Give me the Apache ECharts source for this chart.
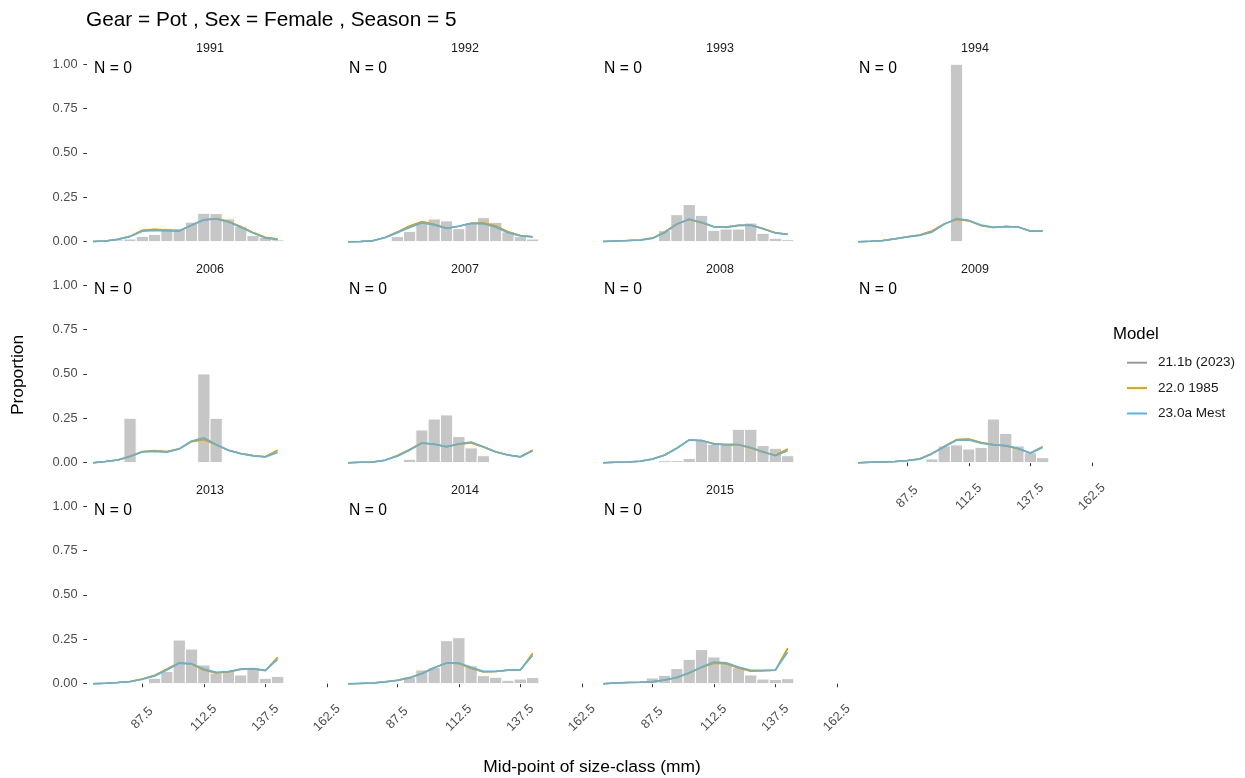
<!DOCTYPE html>
<html><head><meta charset="utf-8">
<script src="https://cdn.jsdelivr.net/npm/echarts@6/dist/echarts.min.js"></script>
<style>html,body{margin:0;padding:0;background:#fff}#c{width:1245px;height:778px}</style>
</head><body><div id="c"></div>
<script>
// ---------- DATA ----------
const years = ['1991','1992','1993','1994','2006','2007','2008','2009','2013','2014','2015'];
const sizeClasses = [67.5,72.5,77.5,82.5,87.5,92.5,97.5,102.5,107.5,112.5,117.5,122.5,127.5,132.5,137.5,142.5];
const xTicks = [87.5,112.5,137.5,162.5];
const yTicks = [0,0.25,0.5,0.75,1];
const nLabels = ['N = 0','N = 0','N = 0','N = 0','N = 0','N = 0','N = 0','N = 0','N = 0','N = 0','N = 0'];
const modelNames = ['21.1b (2023)','22.0 1985','23.0a Mest'];
const modelColors = ['#999999','#E69F00','#56B4E9'];

// observed proportions
const obs1991 = [0.003,0.005,0.01,0.015,0.03,0.041,0.075,0.073,0.11,0.16,0.158,0.128,0.085,0.034,0.024,0.01];
const obs1992 = [0,0,0,0.004,0.028,0.058,0.107,0.128,0.117,0.073,0.107,0.135,0.109,0.055,0.028,0.015];
const obs1993 = [0,0,0,0,0.005,0.062,0.152,0.209,0.148,0.064,0.071,0.071,0.105,0.047,0.019,0.011];
const obs1994 = [0,0,0,0,0,0,0,0,1.0,0,0,0,0,0,0,0];
const obs2006 = [0,0,0,0.25,0,0,0,0,0,0.5,0.25,0,0,0,0,0];
const obs2007 = [0,0,0,0,0,0.019,0.184,0.246,0.269,0.147,0.083,0.039,0,0,0,0];
const obs2008 = [0,0,0,0,0,0.011,0.011,0.024,0.124,0.103,0.103,0.188,0.188,0.096,0.081,0.039];
const obs2009 = [0,0,0,0,0,0,0.021,0.094,0.10,0.077,0.086,0.246,0.165,0.094,0.056,0.028];
const obs2013 = [0,0,0,0,0,0.03,0.068,0.246,0.195,0.105,0.06,0.075,0.049,0.083,0.03,0.041];
const obs2014 = [0,0,0,0,0.005,0.036,0.077,0.09,0.242,0.259,0.1,0.045,0.036,0.019,0.026,0.034];
const obs2015 = [0,0,0,0,0.032,0.047,0.085,0.137,0.192,0.15,0.115,0.09,0.049,0.026,0.023,0.028];

// model 21.1b (2023)
const m211b1991 = [0.001,0.004,0.013,0.03,0.063,0.069,0.064,0.061,0.093,0.124,0.129,0.113,0.084,0.051,0.024,0.014];
const m211b1992 = [0.0,0.001,0.005,0.024,0.054,0.087,0.112,0.097,0.075,0.086,0.104,0.105,0.087,0.055,0.035,0.028];
const m211b1993 = [0.001,0.004,0.006,0.009,0.02,0.054,0.1,0.125,0.107,0.083,0.082,0.092,0.094,0.073,0.05,0.042];
const m211b1994 = [0.0,0.002,0.006,0.016,0.028,0.037,0.059,0.1,0.126,0.118,0.091,0.08,0.085,0.082,0.06,0.06];
const m211b2006 = [0.0,0.006,0.015,0.036,0.062,0.067,0.062,0.078,0.119,0.132,0.1,0.07,0.051,0.04,0.033,0.069];
const m211b2007 = [0.0,0.002,0.004,0.014,0.039,0.073,0.111,0.104,0.09,0.105,0.112,0.088,0.06,0.043,0.033,0.07];
const m211b2008 = [0.0,0.002,0.004,0.008,0.02,0.043,0.082,0.128,0.124,0.107,0.101,0.101,0.083,0.06,0.041,0.075];
const m211b2009 = [0.0,0.002,0.004,0.006,0.012,0.021,0.051,0.091,0.129,0.132,0.112,0.101,0.095,0.079,0.054,0.089];
const m211b2013 = [0.0,0.002,0.006,0.012,0.026,0.046,0.082,0.117,0.111,0.078,0.061,0.067,0.081,0.084,0.074,0.146];
const m211b2014 = [0.0,0.001,0.004,0.01,0.019,0.034,0.058,0.09,0.116,0.114,0.087,0.067,0.068,0.076,0.076,0.169];
const m211b2015 = [0.0,0.004,0.006,0.008,0.011,0.02,0.034,0.06,0.092,0.116,0.113,0.089,0.071,0.073,0.075,0.196];

// model 22.0 1985
const m220_1991 = [0.001,0.004,0.013,0.03,0.064,0.07,0.065,0.062,0.093,0.124,0.13,0.114,0.085,0.052,0.025,0.015];
const m220_1992 = [0.0,0.001,0.005,0.024,0.055,0.088,0.113,0.098,0.075,0.086,0.104,0.106,0.088,0.056,0.035,0.028];
const m220_1993 = [0.001,0.004,0.006,0.009,0.02,0.055,0.1,0.124,0.106,0.083,0.082,0.093,0.094,0.074,0.05,0.042];
const m220_1994 = [0.0,0.002,0.006,0.016,0.028,0.038,0.06,0.1,0.125,0.117,0.09,0.08,0.085,0.082,0.06,0.06];
const m220_2006 = [0.0,0.006,0.015,0.036,0.063,0.068,0.063,0.078,0.118,0.13,0.1,0.07,0.051,0.04,0.033,0.071];
const m220_2007 = [0.0,0.002,0.004,0.014,0.04,0.074,0.112,0.104,0.09,0.104,0.111,0.088,0.06,0.043,0.033,0.071];
const m220_2008 = [0.0,0.002,0.004,0.008,0.02,0.043,0.083,0.128,0.124,0.108,0.1,0.1,0.082,0.06,0.042,0.077];
const m220_2009 = [0.0,0.002,0.004,0.006,0.012,0.022,0.052,0.092,0.13,0.133,0.113,0.102,0.094,0.078,0.055,0.09];
const m220_2013 = [0.0,0.002,0.006,0.012,0.026,0.047,0.083,0.118,0.11,0.077,0.06,0.066,0.08,0.084,0.073,0.148];
const m220_2014 = [0.0,0.001,0.004,0.01,0.019,0.034,0.059,0.09,0.116,0.113,0.086,0.066,0.068,0.076,0.076,0.171];
const m220_2015 = [0.0,0.004,0.006,0.008,0.011,0.02,0.034,0.06,0.092,0.115,0.112,0.088,0.07,0.072,0.075,0.2];

// model 23.0a Mest
const m230a1991 = [0.001,0.004,0.012,0.028,0.058,0.063,0.06,0.06,0.092,0.122,0.127,0.11,0.08,0.048,0.02,0.01];
const m230a1992 = [0.0,0.001,0.005,0.022,0.05,0.08,0.105,0.094,0.074,0.088,0.102,0.1,0.081,0.05,0.032,0.026];
const m230a1993 = [0.001,0.004,0.006,0.008,0.017,0.05,0.098,0.128,0.11,0.085,0.08,0.09,0.092,0.072,0.048,0.04];
const m230a1994 = [0.0,0.002,0.005,0.015,0.026,0.034,0.053,0.097,0.131,0.12,0.094,0.081,0.086,0.083,0.058,0.058];
const m230a2006 = [0.0,0.006,0.015,0.034,0.06,0.063,0.058,0.077,0.122,0.141,0.103,0.07,0.05,0.038,0.032,0.057];
const m230a2007 = [0.0,0.002,0.004,0.013,0.036,0.07,0.109,0.105,0.09,0.107,0.117,0.09,0.062,0.043,0.032,0.066];
const m230a2008 = [0.0,0.002,0.004,0.008,0.019,0.041,0.081,0.128,0.126,0.103,0.103,0.103,0.086,0.062,0.038,0.066];
const m230a2009 = [0.0,0.002,0.004,0.006,0.011,0.019,0.049,0.088,0.126,0.128,0.109,0.10,0.096,0.081,0.053,0.085];
const m230a2013 = [0.0,0.002,0.006,0.011,0.024,0.043,0.077,0.115,0.113,0.083,0.064,0.068,0.083,0.085,0.075,0.137];
const m230a2014 = [0.0,0.002,0.004,0.009,0.017,0.032,0.056,0.088,0.117,0.117,0.092,0.07,0.07,0.077,0.077,0.158];
const m230a2015 = [0.0,0.004,0.006,0.008,0.011,0.021,0.036,0.062,0.094,0.122,0.118,0.094,0.075,0.075,0.077,0.177];

const obsList = [obs1991,obs1992,obs1993,obs1994,obs2006,obs2007,obs2008,obs2009,obs2013,obs2014,obs2015];
const modelLists = [
  [m211b1991,m211b1992,m211b1993,m211b1994,m211b2006,m211b2007,m211b2008,m211b2009,m211b2013,m211b2014,m211b2015],
  [m220_1991,m220_1992,m220_1993,m220_1994,m220_2006,m220_2007,m220_2008,m220_2009,m220_2013,m220_2014,m220_2015],
  [m230a1991,m230a1992,m230a1993,m230a1994,m230a2006,m230a2007,m230a2008,m230a2009,m230a2013,m230a2014,m230a2015]
];

// ---------- LAYOUT ----------
const FONT = "'Liberation Sans', Arial, sans-serif";
const L0 = 87, COLSTEP = 255, PW = 246;
const T0 = 55.4, ROWSTEP = 221, PH = 195.1;
const XMIN = 65, XMAX = 165, YMIN = -0.05, YMAX = 1.05;

const grids = [], xAxes = [], yAxes = [], series = [], graphics = [];
years.forEach((yr, k) => {
  const row = Math.floor(k / 4), col = k % 4;
  const left = L0 + col * COLSTEP, top = T0 + row * ROWSTEP;
  grids.push({left: left, top: top, width: PW, height: PH, containLabel: false});
  const showX = (k >= 8) || (k === 7);
  const showY = col === 0;
  xAxes.push({
    type: 'value', gridIndex: k, min: XMIN, max: XMAX,
    axisLine: {show: false}, splitLine: {show: false},
    axisTick: {show: showX, customValues: xTicks, length: 3.6, lineStyle: {color: '#333333', width: 1}},
    axisLabel: {show: showX, customValues: xTicks, rotate: 45, align: 'center', verticalAlign: 'middle', margin: 25.5,
      color: '#4D4D4D', fontSize: 12.8, fontFamily: FONT, formatter: v => v.toFixed(1)}
  });
  yAxes.push({
    type: 'value', gridIndex: k, min: YMIN, max: YMAX,
    axisLine: {show: false}, splitLine: {show: false},
    axisTick: {show: showY, customValues: yTicks, length: 3.6, lineStyle: {color: '#333333', width: 1}},
    axisLabel: {show: showY, customValues: yTicks, margin: 9.5, color: '#4D4D4D', fontSize: 12.8, fontFamily: FONT,
      formatter: v => v.toFixed(2)}
  });
  // observed bars
  series.push({
    type: 'custom', name: 'obs', xAxisIndex: k, yAxisIndex: k, silent: true, z: 1,
    data: sizeClasses.map((x, i) => [x, obsList[k][i]]),
    renderItem: (params, api) => {
      const x = api.value(0), v = api.value(1);
      if (!v) return null;
      const p0 = api.coord([x - 2.5, 0]), p1 = api.coord([x + 2.5, v]);
      return {type: 'rect', shape: {x: p0[0], y: p1[1], width: p1[0] - p0[0], height: p0[1] - p1[1]},
        style: {fill: '#C6C6C6', stroke: '#FFFFFF', lineWidth: 1}};
    }
  });
  // model lines
  modelNames.forEach((nm, m) => {
    series.push({
      type: 'line', name: nm, xAxisIndex: k, yAxisIndex: k, z: 2 + m,
      symbol: 'none', silent: true,
      itemStyle: {color: modelColors[m]},
      lineStyle: {color: modelColors[m], width: 1.5},
      data: sizeClasses.map((x, i) => [x, modelLists[m][k][i]])
    });
  });
  // N label
  series.push({
    type: 'custom', name: 'nlab', xAxisIndex: k, yAxisIndex: k, silent: true, z: 10,
    data: [[sizeClasses[0], 1]],
    renderItem: (params, api) => {
      const p = api.coord([api.value(0), api.value(1)]);
      return {type: 'text', x: p[0] + 0.8, y: p[1] + 4.8,
        style: {text: nLabels[k], fill: '#000000', fontSize: 15.7, fontFamily: FONT, align: 'left', verticalAlign: 'middle'}};
    }
  });
  // strip label
  graphics.push({type: 'text', x: left + PW / 2, y: top - 7,
    style: {text: yr, fill: '#1A1A1A', fontSize: 12.5, fontFamily: FONT, align: 'center', verticalAlign: 'middle'}});
});

graphics.push({type: 'text', x: 86, y: 20,
  style: {text: 'Gear = Pot , Sex = Female , Season = 5', fill: '#000000', fontSize: 20.8, fontFamily: FONT, align: 'left', verticalAlign: 'middle'}});
graphics.push({type: 'text', x: 592, y: 767,
  style: {text: 'Mid-point of size-class (mm)', fill: '#000000', fontSize: 17.4, fontFamily: FONT, align: 'center', verticalAlign: 'middle'}});
graphics.push({type: 'text', x: 18, y: 375, rotation: Math.PI / 2,
  style: {text: 'Proportion', fill: '#000000', fontSize: 17.4, fontFamily: FONT, align: 'center', verticalAlign: 'middle'}});
graphics.push({type: 'text', x: 1113, y: 334,
  style: {text: 'Model', fill: '#000000', fontSize: 16.8, fontFamily: FONT, align: 'left', verticalAlign: 'middle'}});

const chart = echarts.init(document.getElementById('c'), null, {renderer: 'canvas'});
chart.setOption({
  animation: false,
  backgroundColor: '#FFFFFF',
  grid: grids, xAxis: xAxes, yAxis: yAxes, series: series,
  legend: {
    data: modelNames, orient: 'vertical', left: 1127, top: 354.7, padding: 0,
    itemWidth: 20, itemHeight: 2, itemGap: 9.4, icon: 'rect', selectedMode: false,
    textStyle: {fontSize: 13.6, color: '#1A1A1A', fontFamily: FONT, lineHeight: 16, padding: [0, 0, 0, 6]}
  },
  graphic: graphics
});
</script></body></html>
